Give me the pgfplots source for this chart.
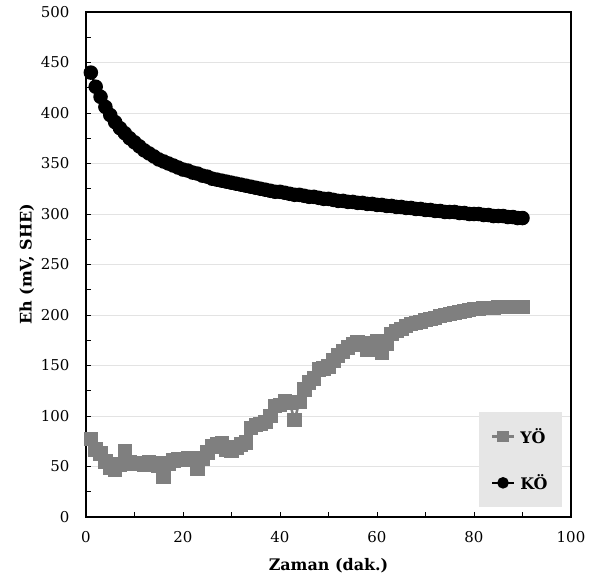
\documentclass[border=0pt]{standalone}
\usepackage{fontspec}
\setmainfont{DejaVu Serif}
\usepackage{pgfplots}
\pgfplotsset{compat=1.18}
\definecolor{ygray}{HTML}{7F7F7F}
\definecolor{gridc}{HTML}{E3E3E3}
\definecolor{legbg}{HTML}{E6E6E6}
\begin{document}
\begin{tikzpicture}
\begin{axis}[name=ax, scale only axis, width=485bp, height=505bp,
 xmin=0, xmax=100, ymin=0, ymax=500,
 xtick={0,20,...,100}, ytick={0,50,...,500},
 minor xtick={10,30,50,70,90}, minor ytick={25,75,...,475},
 xtick pos=bottom, ytick pos=left,
 tick align=inside, major tick length=5bp, minor tick length=5bp,
 tick style={black, line width=0.6bp},
 ymajorgrids, major grid style={gridc, line width=0.8bp},
 axis line style={line width=1.4bp},
 /pgf/number format/assume math mode=true,
 ticklabel style={font=\fontsize{15}{18}\selectfont},
 yticklabel style={xshift=-13bp},
 xticklabel style={yshift=-11bp},
 xlabel={Zaman (dak.)}, ylabel={Eh (mV, SHE)},
 xlabel style={font=\fontsize{16}{19}\selectfont\bfseries, at={([yshift=-49bp]axis description cs:0.5,0)}, anchor=center},
 ylabel style={font=\fontsize{16}{19}\selectfont\bfseries, at={([xshift=-59bp]axis description cs:0,0.5)}, anchor=center},
 clip=false,
 legend style={at={(rel axis cs:0.981,0.208)}, anchor=north east,
   fill=legbg, draw=none, inner xsep=12bp, inner ysep=14bp,
   row sep=26bp, font=\fontsize{16}{19}\selectfont\bfseries,
   /tikz/every odd column/.append style={column sep=3bp}},
 legend cell align=left,
 legend image code/.code={\draw[#1, mark size=4.5bp, mark repeat=2, mark phase=2] plot coordinates {(0bp,0bp)(11bp,0bp)(22bp,0bp)};},
]
\addplot[color=ygray, line width=2.5bp, mark=square*, mark size=6bp, mark options={fill=ygray, draw=ygray}] coordinates {
(1,77)(2,67)(3,63)(4,55)(5,49)(6,47)(7,52)(8,65)(9,54)(10,53)
(11,53)(12,52)(13,54)(14,53)(15,51)(16,40)(17,53)(18,56)(19,57)(20,57)
(21,58)(22,57)(23,48)(24,58)(25,64)(26,70)(27,72)(28,73)(29,67)(30,66)
(31,69)(32,72)(33,74)(34,88)(35,91)(36,92)(37,94)(38,100)(39,110)(40,111)
(41,115)(42,113)(43,96)(44,114)(45,126)(46,133)(47,137)(48,146)(49,147)(50,149)
(51,155)(52,160)(53,164)(54,168)(55,171)(56,173)(57,172)(58,166)(59,168)(60,174)
(61,163)(62,172)(63,181)(64,184)(65,186)(66,189)(67,191)(68,192)(69,193)(70,195)
(71,196)(72,197)(73,199)(74,200)(75,201)(76,202)(77,203)(78,204)(79,205)(80,206)
(81,206)(82,207)(83,207)(84,207)(85,208)(86,208)(87,208)(88,208)(89,208)(90,208)
};
\addlegendentry{YÖ}
\addplot[color=black, line width=2.5bp, mark=*, mark size=6bp, mark options={fill=black, draw=black}] coordinates {
(1,440)(2,426)(3,416)(4,406)(5,398)(6,391)(7,385)(8,380)(9,375)(10,371)
(11,367)(12,363)(13,360)(14,357)(15,354)(16,352)(17,350)(18,348)(19,346)(20,344)
(21,343)(22,341)(23,340)(24,338)(25,337)(26,335)(27,334)(28,333)(29,332)(30,331)
(31,330)(32,329)(33,328)(34,327)(35,326)(36,325)(37,324)(38,323)(39,322)(40,322)
(41,321)(42,320)(43,319)(44,319)(45,318)(46,317)(47,317)(48,316)(49,315)(50,315)
(51,314)(52,313)(53,313)(54,312)(55,312)(56,311)(57,311)(58,310)(59,310)(60,309)
(61,309)(62,308)(63,308)(64,307)(65,307)(66,306)(67,306)(68,305)(69,305)(70,304)
(71,304)(72,303)(73,303)(74,302)(75,302)(76,302)(77,301)(78,301)(79,300)(80,300)
(81,300)(82,299)(83,299)(84,298)(85,298)(86,298)(87,297)(88,297)(89,296)(90,296)
};
\addlegendentry{KÖ}
\end{axis}
\path (ax.south west) ++(-86bp,-64bp) rectangle ++(601bp,581bp);
\end{tikzpicture}
\end{document}
